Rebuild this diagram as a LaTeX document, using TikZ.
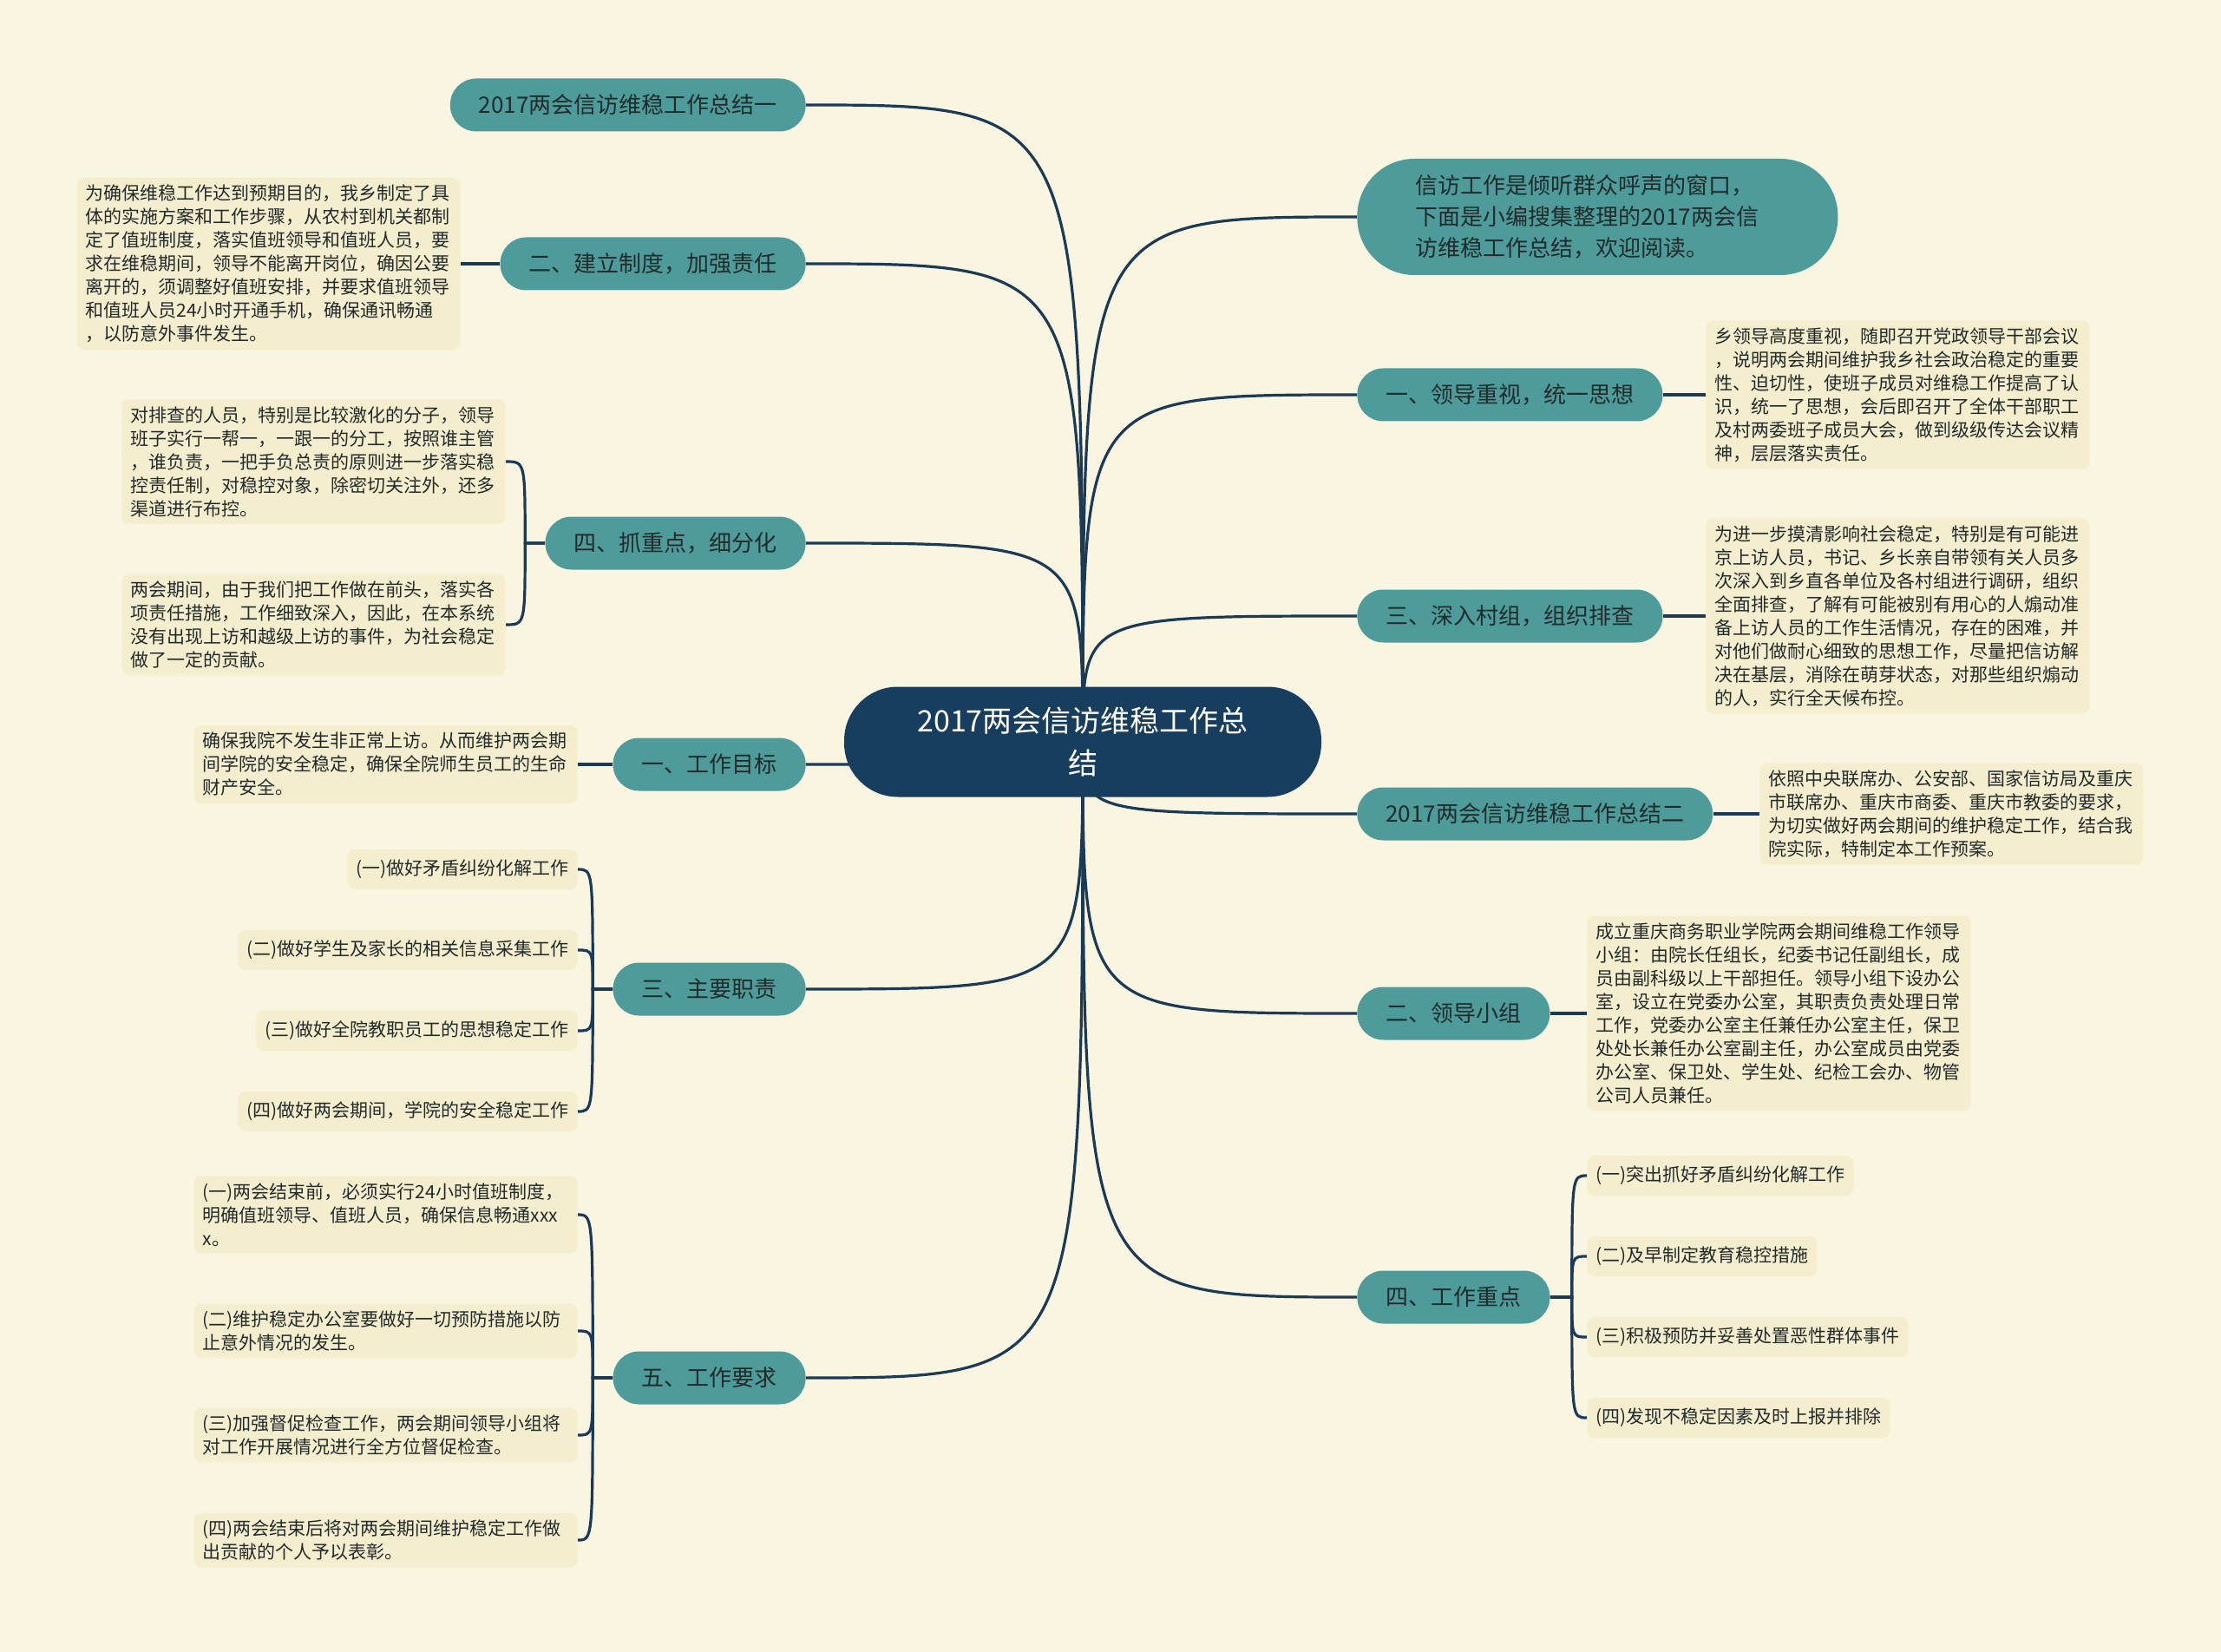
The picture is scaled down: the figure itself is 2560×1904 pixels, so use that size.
\documentclass[tikz,border=0pt]{standalone}
\usepackage{fontspec}
\setmainfont{Noto Sans CJK SC}
\usetikzlibrary{calc}
\definecolor{bgc}{HTML}{FAF5E1}
\definecolor{leafc}{HTML}{F4EECF}
\definecolor{branchc}{HTML}{4E9B9B}
\definecolor{centerc}{HTML}{173E5E}
\definecolor{linec}{HTML}{1A3A56}
\definecolor{txtc}{HTML}{222A2A}
\pgfdeclarelayer{bgl}\pgfdeclarelayer{edges}\pgfsetlayers{bgl,edges,main}
\tikzset{
  branch/.style={fill=branchc, rounded corners=15pt, minimum height=30.5pt, inner xsep=16.5pt, inner ysep=0pt, font=\fontsize{13}{16}\selectfont, text=txtc},
  leaf/.style={fill=leafc, rounded corners=4pt, inner xsep=5pt, inner ysep=4pt, minimum height=23pt, align=left, font=\fontsize{10.5}{13.5}\selectfont, text=txtc},
  bigleaf/.style={leaf, text width=211pt},
  conn/.style={draw=linec, line width=1.6pt},
  centre/.style={fill=centerc, rounded corners=31pt, minimum width=275pt, minimum height=63.5pt, text=white, align=center, font=\fontsize{17}{24.5}\selectfont},
  intro/.style={fill=branchc, rounded corners=33pt, minimum height=67pt, inner xsep=33.5pt, text width=210pt, align=left, text=txtc, font=\fontsize{13}{18}\selectfont}
}
\begin{document}
\begin{tikzpicture}[x=0.5pt,y=-0.5pt]
\useasboundingbox (0,0) rectangle (2560,1904);
\begin{pgfonlayer}{bgl}
\fill[bgc] (0,0) rectangle (2560,1904);
\end{pgfonlayer}

% centre
\node[centre] (ctr) at (1248,855) {2017两会信访维稳工作总\\结};

% left branches
\node[branch, anchor=east] (A) at (929,121) {2017两会信访维稳工作总结一};
\node[branch, anchor=east] (B) at (929,304) {二、建立制度，加强责任};
\node[branch, anchor=east] (C) at (929,626) {四、抓重点，细分化};
\node[branch, anchor=east] (D) at (929,881) {一、工作目标};
\node[branch, anchor=east] (E) at (929,1140) {三、主要职责};
\node[branch, anchor=east] (F) at (929,1588) {五、工作要求};

% right branches
\node[intro, anchor=west] (G) at (1564,250) {信访工作是倾听群众呼声的窗口，\\下面是小编搜集整理的2017两会信\\访维稳工作总结，欢迎阅读。};
\node[branch, anchor=west] (H) at (1564,455) {一、领导重视，统一思想};
\node[branch, anchor=west] (I) at (1564,710) {三、深入村组，组织排查};
\node[branch, anchor=west] (J) at (1564,938) {2017两会信访维稳工作总结二};
\node[branch, anchor=west] (K) at (1564,1168) {二、领导小组};
\node[branch, anchor=west] (L) at (1564,1495) {四、工作重点};

% left leaves
\node[bigleaf, anchor=east] (Bl) at (531,304) {为确保维稳工作达到预期目的，我乡制定了具\\体的实施方案和工作步骤，从农村到机关都制\\定了值班制度，落实值班领导和值班人员，要\\求在维稳期间，领导不能离开岗位，确因公要\\离开的，须调整好值班安排，并要求值班领导\\和值班人员24小时开通手机，确保通讯畅通\\，以防意外事件发生。};
\node[bigleaf, anchor=east] (C1) at (583,532) {对排查的人员，特别是比较激化的分子，领导\\班子实行一帮一，一跟一的分工，按照谁主管\\，谁负责，一把手负总责的原则进一步落实稳\\控责任制，对稳控对象，除密切关注外，还多\\渠道进行布控。};
\node[bigleaf, anchor=east] (C2) at (583,720) {两会期间，由于我们把工作做在前头，落实各\\项责任措施，工作细致深入，因此，在本系统\\没有出现上访和越级上访的事件，为社会稳定\\做了一定的贡献。};
\node[bigleaf, anchor=east] (Dl) at (666,881) {确保我院不发生非正常上访。从而维护两会期\\间学院的安全稳定，确保全院师生员工的生命\\财产安全。};
\node[leaf, anchor=east] (E1) at (666,1002) {(一)做好矛盾纠纷化解工作};
\node[leaf, anchor=east] (E2) at (666,1095) {(二)做好学生及家长的相关信息采集工作};
\node[leaf, anchor=east] (E3) at (666,1188) {(三)做好全院教职员工的思想稳定工作};
\node[leaf, anchor=east] (E4) at (666,1281) {(四)做好两会期间，学院的安全稳定工作};
\node[bigleaf, anchor=east] (F1) at (666,1400) {(一)两会结束前，必须实行24小时值班制度，\\明确值班领导、值班人员，确保信息畅通xxx\\x。};
\node[bigleaf, anchor=east] (F2) at (666,1534) {(二)维护稳定办公室要做好一切预防措施以防\\止意外情况的发生。};
\node[bigleaf, anchor=east] (F3) at (666,1654) {(三)加强督促检查工作，两会期间领导小组将\\对工作开展情况进行全方位督促检查。};
\node[bigleaf, anchor=east] (F4) at (666,1775) {(四)两会结束后将对两会期间维护稳定工作做\\出贡献的个人予以表彰。};

% right leaves
\node[bigleaf, anchor=west] (Hl) at (1966,455) {乡领导高度重视，随即召开党政领导干部会议\\，说明两会期间维护我乡社会政治稳定的重要\\性、迫切性，使班子成员对维稳工作提高了认\\识，统一了思想，会后即召开了全体干部职工\\及村两委班子成员大会，做到级级传达会议精\\神，层层落实责任。};
\node[bigleaf, anchor=west] (Il) at (1966,710) {为进一步摸清影响社会稳定，特别是有可能进\\京上访人员，书记、乡长亲自带领有关人员多\\次深入到乡直各单位及各村组进行调研，组织\\全面排查，了解有可能被别有用心的人煽动准\\备上访人员的工作生活情况，存在的困难，并\\对他们做耐心细致的思想工作，尽量把信访解\\决在基层，消除在萌芽状态，对那些组织煽动\\的人，实行全天候布控。};
\node[bigleaf, anchor=west] (Jl) at (2028,938) {依照中央联席办、公安部、国家信访局及重庆\\市联席办、重庆市商委、重庆市教委的要求，\\为切实做好两会期间的维护稳定工作，结合我\\院实际，特制定本工作预案。};
\node[bigleaf, anchor=west] (Kl) at (1829,1168) {成立重庆商务职业学院两会期间维稳工作领导\\小组：由院长任组长，纪委书记任副组长，成\\员由副科级以上干部担任。领导小组下设办公\\室，设立在党委办公室，其职责负责处理日常\\工作，党委办公室主任兼任办公室主任，保卫\\处处长兼任办公室副主任，办公室成员由党委\\办公室、保卫处、学生处、纪检工会办、物管\\公司人员兼任。};
\node[leaf, anchor=west] (L1) at (1829,1355) {(一)突出抓好矛盾纠纷化解工作};
\node[leaf, anchor=west] (L2) at (1829,1448) {(二)及早制定教育稳控措施};
\node[leaf, anchor=west] (L3) at (1829,1541) {(三)积极预防并妥善处置恶性群体事件};
\node[leaf, anchor=west] (L4) at (1829,1634) {(四)发现不稳定因素及时上报并排除};

\coordinate (Cb) at ($(C.west)+(-23,0)$);
\coordinate (Eb) at ($(E.west)+(-23,0)$);
\coordinate (Fb) at ($(F.west)+(-23,0)$);
\coordinate (Lb) at ($(L.east)+(25,0)$);

\begin{pgfonlayer}{edges}
\foreach \t in {A,B,C,D,E,F}
  \draw[conn] (ctr.center) .. controls (ctr.center |- \t.east) and (ctr.center |- \t.east) .. (\t.east);
\foreach \t in {G,H,I,J,K,L}
  \draw[conn] (ctr.center) .. controls (ctr.center |- \t.west) and (ctr.center |- \t.west) .. (\t.west);
\draw[conn] (B.west) -- (Bl.east);
\draw[conn] (D.west) -- (Dl.east);
\draw[conn] (H.east) -- (Hl.west);
\draw[conn] (I.east) -- (Il.west);
\draw[conn] (J.east) -- (Jl.west);
\draw[conn] (K.east) -- (Kl.west);
\foreach \l in {C1,C2}
  \draw[conn] (C.west) -- (Cb) .. controls (Cb |- \l.east) and (Cb |- \l.east) .. (\l.east);
\foreach \l in {E1,E2,E3,E4}
  \draw[conn] (E.west) -- (Eb) .. controls (Eb |- \l.east) and (Eb |- \l.east) .. (\l.east);
\foreach \l in {F1,F2,F3,F4}
  \draw[conn] (F.west) -- (Fb) .. controls (Fb |- \l.east) and (Fb |- \l.east) .. (\l.east);
\foreach \l in {L1,L2,L3,L4}
  \draw[conn] (L.east) -- (Lb) .. controls (Lb |- \l.west) and (Lb |- \l.west) .. (\l.west);
\end{pgfonlayer}
\end{tikzpicture}
\end{document}
